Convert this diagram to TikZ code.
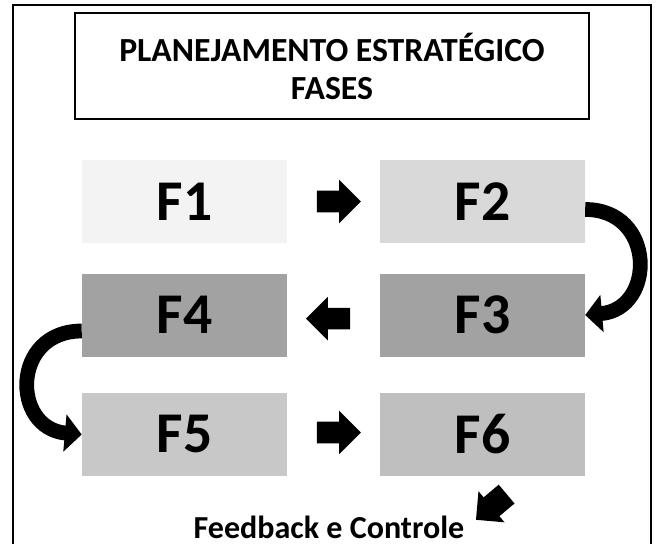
\documentclass[tikz,border=0pt]{standalone}
\usepackage{fontspec}
\setmainfont{Carlito}
\definecolor{faseum}{RGB}{242, 243, 242}
\definecolor{fasedois}{RGB}{217, 217, 217}
\definecolor{fasetres}{RGB}{162, 162, 162}
\definecolor{fasecinco}{RGB}{200, 200, 200}
\definecolor{faseseis}{RGB}{191, 191, 191}
\usetikzlibrary{shapes, arrows.meta, positioning, calc}

\begin{document}
\begin{tikzpicture}[
  fase/.style={minimum width=5.125cm, minimum height=2.075cm, inner sep=0pt, font=\fontsize{41}{41}\selectfont\bfseries},
  blockarrow/.style={single arrow, fill=black, draw=none, inner xsep=0pt, inner ysep=0.2625cm, minimum height=1.1cm, single arrow head extend=0.275cm},
  curvearrow/.style={line width=10.5pt, -{Triangle[length=12pt, width=26pt]}}
]
  \useasboundingbox (0,0) rectangle (16.4,-13.6);
  % outer frame, open at the bottom of the page
  \draw[line width=1.4pt] (0.325,-0.125) rectangle (16.275,-14.5);
  \node[draw, line width=1pt, fill=white, minimum width=12.85cm, minimum height=2.65cm, align=center, font=\fontsize{24}{27}\selectfont\bfseries] (titulo) at (8.3, -1.65) {PLANEJAMENTO ESTRATÉGICO\\FASES};

  % phases
  \node[fase, fill=faseum] (f1) at (4.6125, -5.0375) {F1};
  \node[fase, fill=fasedois] (f2) at (12.06, -5.0375) {F2};
  \node[fase, fill=fasetres] (f3) at (12.06, -7.875) {F3};
  \node[fase, fill=fasetres] (f4) at (4.6125, -7.875) {F4};
  \node[fase, fill=fasecinco] (f5) at (4.6125, -10.8625) {F5};
  \node[fase, fill=faseseis] (f6) at (12.06, -10.8625) {F6};

  % arrows
  \node[blockarrow] (a12) at ($(f1.east)!0.5!(f2.west)$) {};
  \node[blockarrow, shape border rotate=180] (a34) at ($(f4.east)!0.5!(f3.west)+(0,-0.09)$) {};
  \node[blockarrow] (a56) at ($(f5.east)!0.5!(f6.west)+(0,0.05)$) {};
  \draw[curvearrow] ($(f2.east)+(0,-0.2)$) to[out=0, in=5, looseness=1.72] (f3.east);
  \draw[curvearrow] ($(f4.west)+(0,-0.4)$) to[out=180, in=175, looseness=1.75] (f5.west);

  % feedback
  \node[anchor=base, font=\fontsize{22.8}{27}\selectfont\bfseries] (feedback) at (8.225, -13.45) {Feedback e Controle};
  \node[blockarrow, minimum height=1cm, inner ysep=0.3cm, single arrow head extend=0.2cm, rotate=220] (fb) at (12.4, -12.575) {};
\end{tikzpicture}
\end{document}
